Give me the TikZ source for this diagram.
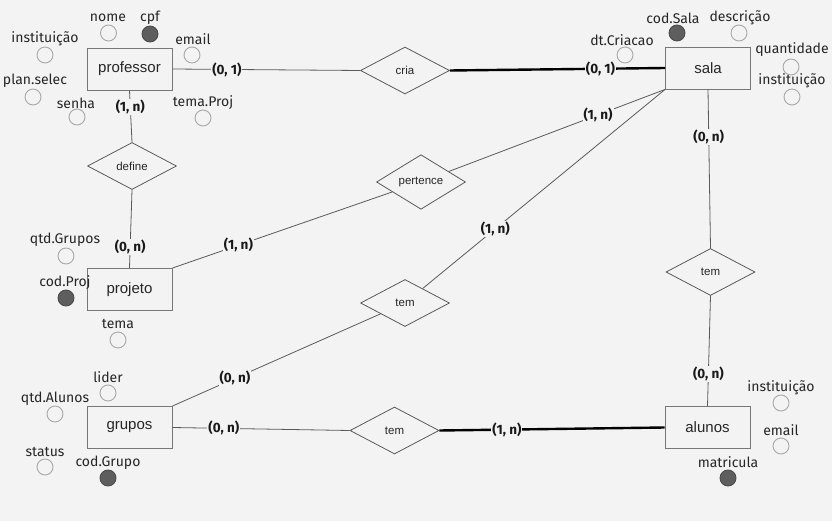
\documentclass[tikz,border=0pt]{standalone}
\usepackage{fontspec}
\setmainfont{Fira Sans}
\newfontfamily\arialf{Liberation Sans}
\usetikzlibrary{shapes.geometric}
\definecolor{bg}{HTML}{F3F3F3}
\definecolor{ln}{HTML}{5A5A5A}
\definecolor{box}{HTML}{777777}
\definecolor{circ}{HTML}{A8A8A8}
\definecolor{keyc}{HTML}{5E5E5E}
\begin{document}
\begin{tikzpicture}[x=1pt,y=-1pt,
 entity/.style={draw=box, line width=0.9pt, fill=bg, minimum width=85pt, minimum height=42pt, inner sep=0, font=\arialf\fontsize{15}{17}\selectfont, text=black!85},
 rel/.style={draw=ln, line width=0.8pt, diamond, fill=bg, minimum width=89pt, minimum height=47pt, inner sep=0, font=\arialf\fontsize{11.5}{13}\selectfont, text=black!85},
 conn/.style={draw=ln, line width=0.8pt},
 strong/.style={draw=black, line width=2.4pt},
 card/.style={fill=bg, inner sep=1pt, font=\bfseries\fontsize{13.5}{15}\selectfont, text=black!90},
 attr/.style={circle, draw=circ, line width=0.9pt, minimum size=16pt, inner sep=0},
 keyattr/.style={circle, draw=keyc!80!black, fill=keyc, line width=0.9pt, minimum size=16pt, inner sep=0},
 atxt/.style={inner sep=0, font=\fontsize{14}{16}\selectfont, text=black!85}]
\fill[bg] (0,0) rectangle (832,521);
\useasboundingbox (0,0) rectangle (832,521);

% entities
\node[entity] (prof) at (129.5,69) {professor};
\node[entity] (sala) at (708,68) {sala};
\node[entity] (proj) at (129.5,289.5) {projeto};
\node[entity] (grup) at (129.5,427.5) {grupos};
\node[entity] (alun) at (707.5,427.5) {alunos};

% relationships
\node[rel] (cria) at (405,70.5) {cria};
\node[rel] (pert) at (421,182) {pertence};
\node[rel] (defi) at (132,166) {define};
\node[rel] (temA) at (405,303) {tem};
\node[rel] (temB) at (394.5,430.5) {tem};
\node[rel] (temC) at (710.5,272) {tem};

% connectors
\draw[conn] (prof.east) -- node[card,pos=0.29]{(0, 1)} (cria.west);
\draw[strong] (cria.east) -- node[card,pos=0.70]{(0, 1)} (sala.west);
\draw[conn] (prof.south) -- node[card,pos=0.32]{(1, n)} (defi.north);
\draw[conn] (defi.south) -- node[card,pos=0.73]{(0, n)} (proj.north);
\draw[conn] (proj.north east) -- node[card,pos=0.30]{(1, n)} (pert);
\draw[conn] (pert) -- node[card,pos=0.69]{(1, n)} (sala.south west);
\draw[conn] (sala.south west) -- node[card,pos=0.70]{(1, n)} (temA);
\draw[conn] (temA) -- node[card,pos=0.70]{(0, n)} (grup.north east);
\draw[conn] (grup.east) -- node[card,pos=0.29]{(0, n)} (temB.west);
\draw[strong] (temB.east) -- node[card,pos=0.30]{(1, n)} (alun.west);
\draw[conn] (sala.south) -- node[card,pos=0.30]{(0, n)} (temC.north);
\draw[conn] (temC.south) -- node[card,pos=0.71]{(0, n)} (alun.north);

% professor attributes
\node[atxt] (tnome) at (108,18) {nome};
\node[attr] (cnome) at (108.5,33) {};
\node[atxt] (tcpf) at (150,18) {cpf};
\node[keyattr] (ccpf) at (150,34) {};
\node[atxt] (tinst1) at (45,39) {instituição};
\node[attr] (cinst1) at (45,55) {};
\node[atxt] (temail1) at (193,39) {email};
\node[attr] (cemail1) at (192,55) {};
\node[atxt] (tplan) at (35,81) {plan.selec};
\node[attr] (cplan) at (33,97) {};
\node[atxt] (tsenha) at (76,103) {senha};
\node[attr] (csenha) at (77,117) {};
\node[atxt] (ttp) at (203,103) {tema.Proj};
\node[attr] (ctp) at (203,118) {};

% sala attributes
\node[atxt] (tcods) at (673,18) {cod.Sala};
\node[keyattr] (ccods) at (677,33) {};
\node[atxt] (tdesc) at (740,18) {descrição};
\node[attr] (cdesc) at (739,33) {};
\node[atxt] (tdtc) at (622,40) {dt.Criacao};
\node[attr] (cdtc) at (625,55) {};
\node[atxt] (tqtd) at (792,50) {quantidade};
\node[attr] (cqtd) at (791,67) {};
\node[atxt] (tinst2) at (792,81) {instituição};
\node[attr] (cinst2) at (792,97) {};

% projeto attributes
\node[atxt] (tqg) at (65,240) {qtd.Grupos};
\node[attr] (cqg) at (66,256) {};
\node[atxt] (tcodp) at (65,283) {cod.Proj};
\node[keyattr] (ccodp) at (66,298) {};
\node[atxt] (ttema) at (118,324) {tema};
\node[attr] (ctema) at (118,340) {};

% grupos attributes
\node[atxt] (tlider) at (108,377) {lider};
\node[attr] (clider) at (108,393) {};
\node[atxt] (tqa) at (55,399) {qtd.Alunos};
\node[attr] (cqa) at (55,414) {};
\node[atxt] (tstatus) at (45,452) {status};
\node[attr] (cstatus) at (45,467) {};
\node[atxt] (tcodg) at (108,463) {cod.Grupo};
\node[keyattr] (ccodg) at (108,478) {};

% alunos attributes
\node[atxt] (tinst3) at (781,388) {instituição};
\node[attr] (cinst3) at (781,403) {};
\node[atxt] (temail3) at (781,430) {email};
\node[attr] (cemail3) at (781,446) {};
\node[atxt] (tmat) at (728,462) {matricula};
\node[keyattr] (cmat) at (728,478) {};
\end{tikzpicture}
\end{document}
